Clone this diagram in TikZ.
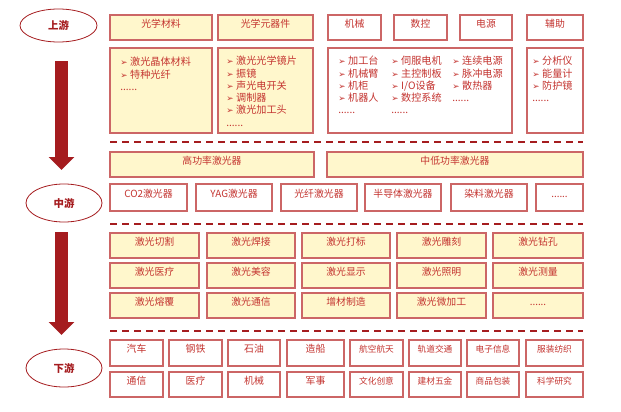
\documentclass[tikz,border=0pt]{standalone}
\usepackage{fontspec}
\setmainfont{Noto Sans CJK SC}
\newfontfamily\bulfont{DejaVu Sans}
\usepackage{tikz}
\usetikzlibrary{arrows.meta, shapes.geometric, fit}

\definecolor{boxred}{RGB}{204,102,102}
\definecolor{textred}{RGB}{196,52,48}
\definecolor{arrowred}{RGB}{165,28,31}
\definecolor{lightyellow}{RGB}{255,247,204}

\newcommand{\arritem}{{\bulfont\fontsize{6.5}{7}\selectfont ➢}\hspace{2pt}}

\tikzset{
  ybox/.style={draw=boxred, fill=lightyellow, line width=0.9pt, inner sep=0pt, text=textred, font=\fontsize{7.4}{9}\selectfont},
  wbox/.style={ybox, fill=white},
  smalltxt/.style={font=\fontsize{6.5}{8}\selectfont},
  stage/.style={draw=arrowred, ellipse, line width=0.6pt, inner sep=0pt, text=arrowred, font=\bfseries\fontsize{7.8}{9}\selectfont},
  itemlist/.style={anchor=north west, align=left, inner sep=0pt, text=textred, font=\fontsize{7.6}{9.2}\selectfont},
  sepline/.style={draw=arrowred, line width=1.5pt, dash pattern=on 5.25pt off 3.75pt},
  flow/.style={draw=arrowred, line width=9.75pt, -{Triangle[width=18.75pt,length=9.75pt]}}
}

\begin{document}
\begin{tikzpicture}[x=0.75pt,y=0.75pt,yscale=-1,xscale=1]
\useasboundingbox (0,0) rectangle (621,411);

%Stages
\node[stage, minimum width=57.75pt, minimum height=24.75pt] (up) at (58.5,25.5) {上游};
\node[stage, minimum width=57pt, minimum height=28.5pt] (mid) at (64,203) {中游};
\node[stage, minimum width=57pt, minimum height=28.5pt] (down) at (64,368) {下游};

%Flow arrows
\coordinate (flowa) at (61.5,61);
\coordinate (flowb) at (61.5,170);
\coordinate (flowc) at (61.5,232);
\coordinate (flowd) at (61.5,335);
\draw[flow] (flowa) -- (flowb);
\draw[flow] (flowc) -- (flowd);

%Upstream headers
\node[ybox, fit={(110,15) (212,40)}] (mat) {光学材料};
\node[ybox, fit={(218,15) (313,40)}] (optic) {光学元器件};
\node[wbox, fit={(328,15) (381,40)}] (mech) {机械};
\node[wbox, fit={(394,15) (447,40)}] (cnc) {数控};
\node[wbox, fit={(460,15) (512,40)}] (power) {电源};
\node[wbox, fit={(527,15) (583,40)}] (aux) {辅助};

%Upstream lists
\node[ybox, fit={(110,48) (212,133)}] (matbox) {};
\node[ybox, fit={(218,48) (313,133)}] (opticbox) {};
\node[wbox, fit={(328,48) (512,133)}] (mechbox) {};
\node[wbox, fit={(527,48) (583,133)}] (auxbox) {};

\node[itemlist] (matlist) at (120,57) {\arritem 激光晶体材料\\\arritem 特种光纤\\......};
\node[itemlist] (opticlist) at (226,56) {\arritem 激光光学镜片\\\arritem 振镜\\\arritem 声光电开关\\\arritem 调制器\\\arritem 激光加工头\\......};
\node[itemlist] (mechlist) at (338,56) {\arritem 加工台\\\arritem 机械臂\\\arritem 机柜\\\arritem 机器人\\......};
\node[itemlist] (cnclist) at (391,56) {\arritem 伺服电机\\\arritem 主控制板\\\arritem I/O设备\\\arritem 数控系统\\......};
\node[itemlist] (powerlist) at (452,56) {\arritem 连续电源\\\arritem 脉冲电源\\\arritem 散热器\\......};
\node[itemlist] (auxlist) at (532,56) {\arritem 分析仪\\\arritem 能量计\\\arritem 防护镜\\......};

%Separators
\draw[sepline] (110,142) -- (583,142);
\draw[sepline] (110,224) -- (583,224);
\draw[sepline] (110,331) -- (583,331);

%Midstream
\node[ybox, fit={(110,152) (314,177)}] (high) {高功率激光器};
\node[ybox, fit={(327,152) (583,177)}] (low) {中低功率激光器};
\node[wbox, fit={(110,184) (187,211)}] (co2) {CO2激光器};
\node[wbox, fit={(196,184) (272,211)}] (yag) {YAG激光器};
\node[wbox, fit={(281,184) (357,211)}] (fiber) {光纤激光器};
\node[wbox, fit={(365,184) (441,211)}] (semi) {半导体激光器};
\node[wbox, fit={(451,184) (527,211)}] (dye) {染料激光器};
\node[wbox, fit={(536,184) (583,211)}] (othlaser) {......};

%Applications
\node[ybox, fit={(110,233) (199,258)}] (cut) {激光切割};
\node[ybox, fit={(207,233) (295,258)}] (weld) {激光焊接};
\node[ybox, fit={(302,233) (390,258)}] (mark) {激光打标};
\node[ybox, fit={(397,233) (486,258)}] (engrave) {激光雕刻};
\node[ybox, fit={(493,233) (583,258)}] (drill) {激光钻孔};
\node[ybox, fit={(110,263) (199,288)}] (medic) {激光医疗};
\node[ybox, fit={(207,263) (295,288)}] (beauty) {激光美容};
\node[ybox, fit={(302,263) (390,288)}] (display) {激光显示};
\node[ybox, fit={(397,263) (486,288)}] (light) {激光照明};
\node[ybox, fit={(493,263) (583,288)}] (measure) {激光测量};
\node[ybox, fit={(110,293) (199,318)}] (clad) {激光熔覆};
\node[ybox, fit={(207,293) (295,318)}] (comm) {激光通信};
\node[ybox, fit={(302,293) (390,318)}] (additive) {增材制造};
\node[ybox, fit={(397,293) (486,318)}] (micro) {激光微加工};
\node[ybox, fit={(493,293) (583,318)}] (othapp) {......};

%Downstream
\node[wbox, fit={(110,340) (163,366)}] (car) {汽车};
\node[wbox, fit={(169,340) (222,366)}] (steel) {钢铁};
\node[wbox, fit={(228,340) (280,366)}] (oil) {石油};
\node[wbox, fit={(287,340) (344,366)}] (ship) {造船};
\node[wbox, smalltxt, fit={(350,340) (403,366)}] (aero) {航空航天};
\node[wbox, smalltxt, fit={(409,340) (461,366)}] (rail) {轨道交通};
\node[wbox, smalltxt, fit={(467,340) (519,366)}] (elec) {电子信息};
\node[wbox, smalltxt, fit={(526,340) (583,366)}] (textile) {服装纺织};
\node[wbox, fit={(110,372) (163,397)}] (tele) {通信};
\node[wbox, fit={(169,372) (222,397)}] (health) {医疗};
\node[wbox, fit={(228,372) (280,397)}] (machine) {机械};
\node[wbox, fit={(287,372) (344,397)}] (army) {军事};
\node[wbox, smalltxt, fit={(350,372) (403,397)}] (culture) {文化创意};
\node[wbox, smalltxt, fit={(409,372) (461,397)}] (build) {建材五金};
\node[wbox, smalltxt, fit={(467,372) (519,397)}] (pack) {商品包装};
\node[wbox, smalltxt, fit={(526,372) (583,397)}] (science) {科学研究};

\end{tikzpicture}
\end{document}
